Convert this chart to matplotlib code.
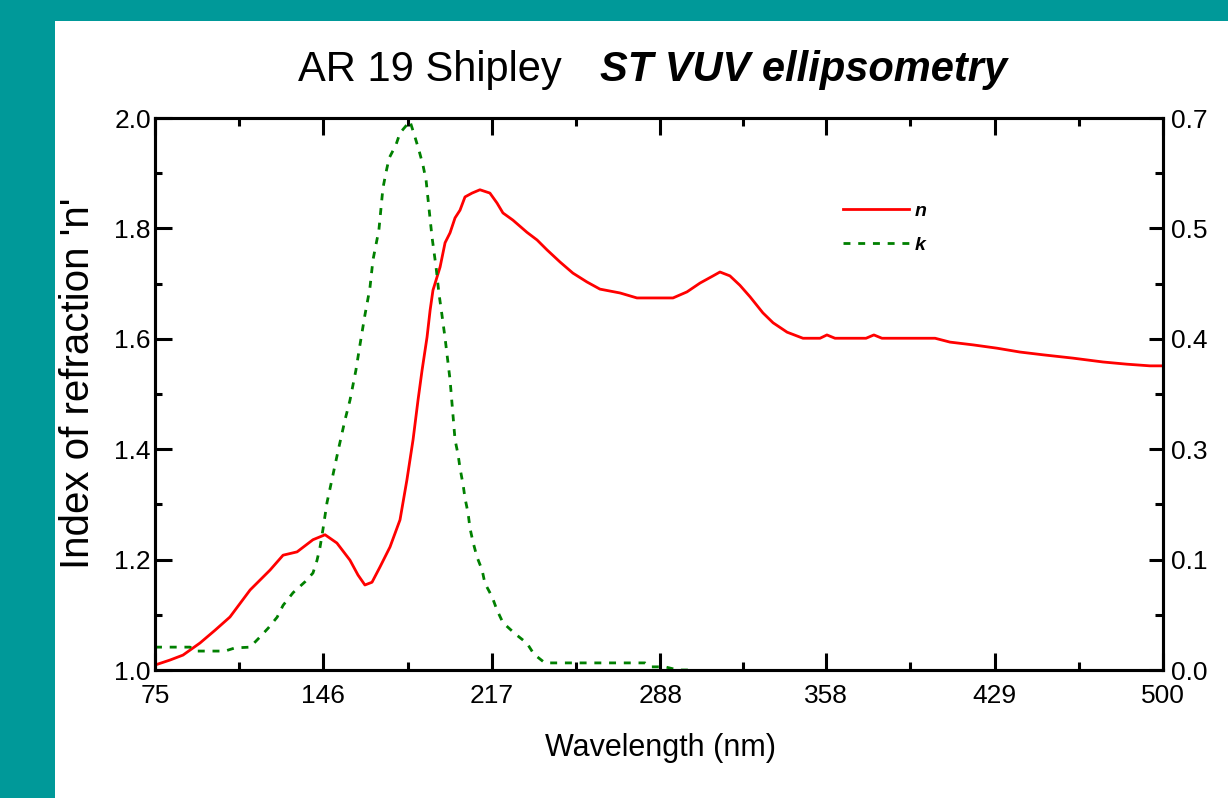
import numpy as np
import matplotlib
matplotlib.use('Agg')
import matplotlib.pyplot as plt
from matplotlib.patches import Rectangle

# ---------------------------------------------------------------
# Data
# ---------------------------------------------------------------
# refractive index n (left axis)
n_wl = [75.0, 81.3, 86.8, 94.0, 100.3, 106.6, 115.1, 123.5, 129.0, 134.9,
        141.6, 146.7, 151.7, 157.2, 160.6, 163.5, 166.5, 169.9, 174.1, 178.3,
        181.2, 183.8, 185.9, 187.6, 189.7, 191.0, 192.2, 195.2, 197.3, 199.4,
        201.5, 203.6, 205.7, 208.7, 212.0, 216.2, 219.2, 221.7, 225.9, 231.8,
        236.1, 240.3, 245.8, 251.2, 257.1, 262.6, 271.1, 278.2, 293.4, 299.3,
        304.8, 310.3, 313.2, 317.4, 321.6, 325.9, 331.3, 335.6, 341.5, 348.2,
        355.4, 358.3, 361.7, 374.8, 378.1, 381.5, 403.9, 410.2, 419.9, 430.0,
        439.7, 449.4, 462.0, 474.7, 484.8, 494.5, 500.0]
n_val = [1.009, 1.018, 1.027, 1.049, 1.072, 1.096, 1.145, 1.181, 1.208, 1.214,
         1.236, 1.245, 1.230, 1.199, 1.172, 1.154, 1.159, 1.187, 1.223, 1.272,
         1.344, 1.417, 1.489, 1.543, 1.603, 1.652, 1.688, 1.730, 1.774, 1.792,
         1.819, 1.833, 1.857, 1.864, 1.870, 1.864, 1.846, 1.828, 1.815, 1.793,
         1.779, 1.761, 1.739, 1.719, 1.703, 1.690, 1.683, 1.674, 1.674, 1.685,
         1.701, 1.714, 1.721, 1.714, 1.697, 1.676, 1.647, 1.629, 1.612, 1.601,
         1.601, 1.607, 1.601, 1.601, 1.607, 1.601, 1.601, 1.594, 1.589, 1.583,
         1.576, 1.571, 1.565, 1.558, 1.554, 1.551, 1.551]

# extinction coefficient k (right axis)
k_wl = [75.0, 89.8, 91.9, 104.5, 108.7, 115.1, 119.3, 122.7, 126.5, 129.0,
        133.2, 138.3, 141.6, 143.3, 144.6, 145.8, 147.5, 150.0, 152.2, 155.1,
        157.2, 159.7, 161.4, 163.5, 165.6, 166.9, 169.4, 171.1, 172.4, 173.7,
        176.6, 178.3, 182.5, 184.6, 186.3, 188.0, 189.3, 190.5, 191.8, 193.5,
        194.7, 196.0, 197.3, 199.4, 201.5, 202.8, 203.6, 204.9, 205.7, 207.0,
        207.8, 209.1, 210.8, 212.9, 214.1, 217.1, 219.2, 221.7, 226.8, 231.8,
        234.8, 239.4, 281.6, 283.7, 290.0, 295.5, 300.6]
k_val = [0.029, 0.029, 0.024, 0.024, 0.028, 0.029, 0.042, 0.053, 0.067, 0.082,
         0.098, 0.112, 0.123, 0.139, 0.156, 0.178, 0.212, 0.247, 0.278, 0.317,
         0.342, 0.380, 0.412, 0.450, 0.484, 0.520, 0.558, 0.611, 0.631, 0.649,
         0.666, 0.681, 0.696, 0.676, 0.659, 0.640, 0.621, 0.586, 0.549, 0.511,
         0.478, 0.450, 0.421, 0.368, 0.292, 0.273, 0.256, 0.235, 0.218, 0.199,
         0.180, 0.162, 0.143, 0.127, 0.110, 0.093, 0.076, 0.060, 0.046, 0.034,
         0.020, 0.009, 0.009, 0.004, 0.004, 0.0, 0.0]

x_ticks = [75, 146, 217, 288, 358, 429, 500]
n_ticks = [1.0, 1.2, 1.4, 1.6, 1.8, 2.0]
k_ticks = [0.0, 0.14, 0.28, 0.42, 0.56, 0.7]
k_tick_labels = ['0.0', '0.1', '0.3', '0.4', '0.5', '0.7']

# ---------------------------------------------------------------
# Style
# ---------------------------------------------------------------
plt.rcParams['font.family'] = ['Liberation Sans', 'DejaVu Sans']
TEAL = '#009999'
RED = '#ff0000'
GREEN = '#008000'
W, H = 1228, 798

fig = plt.figure(figsize=(W / 100, H / 100), dpi=100, facecolor=TEAL)
fig.patches.append(Rectangle((55 / W, 0), 1 - 55 / W, 1 - 21 / H, transform=fig.transFigure,
                             facecolor='white', edgecolor='none', zorder=-10))

ax = fig.add_axes([155 / W, 1 - 670 / H, (1163 - 155) / W, (670 - 118) / H])
ax2 = ax.twinx()

line_n, = ax.plot(n_wl, n_val, color=RED, lw=2.0, label='n')
line_k, = ax2.plot(k_wl, k_val, color=GREEN, lw=2.0, linestyle=(0, (2.5, 2.8)), label='k')

ax.set_xlim(75, 500)
ax.set_ylim(1.0, 2.0)
ax2.set_ylim(0.0, 0.7)

# ticks
ax.set_xticks(x_ticks)
ax.set_xticks([(a + b) / 2 for a, b in zip(x_ticks[:-1], x_ticks[1:])], minor=True)
ax.set_yticks(n_ticks)
ax.set_yticklabels(['%.1f' % v for v in n_ticks])
ax.set_yticks([v + 0.1 for v in n_ticks[:-1]], minor=True)
ax2.set_yticks(k_ticks)
ax2.set_yticklabels(k_tick_labels)
ax2.set_yticks([v + 0.07 for v in k_ticks[:-1]], minor=True)

ax.tick_params(axis='x', which='both', direction='in', top=True, width=2.2, labelsize=19, pad=10)
ax.tick_params(axis='x', which='major', length=12)
ax.tick_params(axis='x', which='minor', length=6)
ax.tick_params(axis='y', which='both', direction='in', width=2.2, labelsize=19, pad=3)
ax.tick_params(axis='y', which='major', length=12)
ax.tick_params(axis='y', which='minor', length=5)
ax2.tick_params(axis='y', which='both', direction='in', width=2.2, labelsize=19, pad=6)
ax2.tick_params(axis='y', which='major', length=10)
ax2.tick_params(axis='y', which='minor', length=6)

for a in (ax, ax2):
    for s in a.spines.values():
        s.set_linewidth(2.2)

# labels
ax.set_xlabel('Wavelength (nm)', fontsize=22)
ax.xaxis.set_label_coords(0.501, -0.115)
ax.set_ylabel("Index of refraction 'n'", fontsize=29)
ax.yaxis.set_label_coords(-0.058, 0.52)

fig.text(298 / W, 1 - 81 / H, 'AR 19 Shipley', fontsize=30, ha='left', va='baseline')
fig.text(600 / W, 1 - 81 / H, 'ST VUV ellipsometry', fontsize=30, fontweight='bold',
         fontstyle='italic', ha='left', va='baseline')

leg = ax.legend(handles=[line_n, line_k], loc='upper left',
                bbox_to_anchor=(843 / W, 1 - 202 / H), bbox_transform=fig.transFigure,
                frameon=False, handlelength=3.4, handletextpad=0.3,
                labelspacing=0.85, borderpad=0, borderaxespad=0,
                prop={'style': 'italic', 'weight': 'bold', 'size': 14})

fig.savefig('out.png', dpi=100, facecolor=TEAL)
